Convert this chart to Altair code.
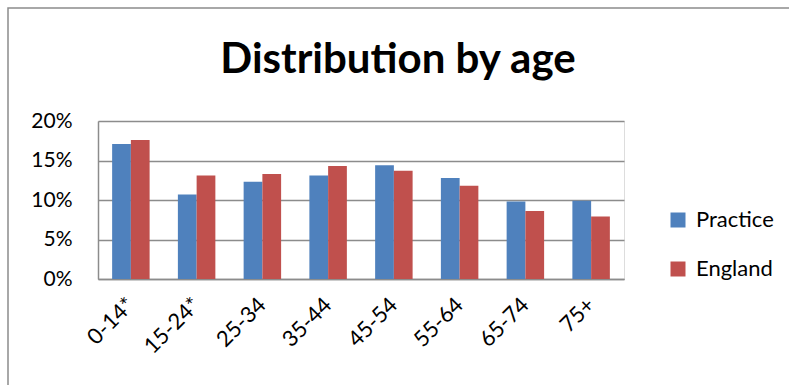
import altair as alt
import pandas as pd

# Share of registered patients by age band (percent)
age_bands = ["0-14*", "15-24*", "25-34", "35-44", "45-54", "55-64", "65-74", "75+"]
practice_pct = [17.1, 10.7, 12.3, 13.1, 14.4, 12.8, 9.8, 9.9]
england_pct = [17.6, 13.1, 13.3, 14.3, 13.7, 11.8, 8.6, 7.9]
series_names = ["Practice", "England"]
series_colors = ["#4F81BD", "#C0504D"]
y_ticks = [0, 5, 10, 15, 20]

rows = []
for band, p, e in zip(age_bands, practice_pct, england_pct):
    rows.append({"age": band, "series": "Practice", "pct": p})
    rows.append({"age": band, "series": "England", "pct": e})
df = pd.DataFrame(rows)

FONT = "Lato"
GRID = "#8C8C8C"

bars = alt.Chart(df).mark_bar().encode(
    x=alt.X(
        "age:N",
        sort=age_bands,
        title=None,
        scale=alt.Scale(paddingInner=0.43, paddingOuter=0.215),
        axis=alt.Axis(
            labelAngle=-45,
            labelAlign="right",
            labelBaseline="middle",
            labelPadding=22,
            labelFont=FONT,
            labelFontSize=22,
            labelColor="#000000",
            ticks=False,
            tickSize=0,
            domainColor=GRID,
            domainWidth=1.5,
            grid=False,
        ),
    ),
    xOffset=alt.XOffset("series:N", sort=series_names, scale=alt.Scale(paddingInner=0, paddingOuter=0)),
    y=alt.Y(
        "pct:Q",
        title=None,
        scale=alt.Scale(domain=[0, 20], nice=False),
        axis=alt.Axis(
            values=y_ticks,
            labelExpr="datum.value + '%'",
            labelFont=FONT,
            labelFontSize=21,
            labelColor="#000000",
            labelPadding=26,
            ticks=False,
            tickSize=0,
            domainColor=GRID,
            domainWidth=1.5,
            gridColor=GRID,
            gridWidth=1.5,
        ),
    ),
    color=alt.Color(
        "series:N",
        sort=series_names,
        scale=alt.Scale(domain=series_names, range=series_colors),
        legend=alt.Legend(
            title=None,
            orient="none",
            legendX=569,
            legendY=88,
            symbolType="square",
            symbolSize=225,
            symbolStrokeWidth=0,
            labelFont=FONT,
            labelFontSize=22,
            labelColor="#000000",
            labelOffset=7,
            rowPadding=27,
        ),
    ),
)

# Outer chart-area border
frame = alt.Chart(pd.DataFrame({"k": [0]})).mark_rect(
    filled=False, stroke=GRID, strokeWidth=1.5
).encode(
    x=alt.value(-90), x2=alt.value(900), y=alt.value(-113), y2=alt.value(400)
)

chart = alt.layer(frame, bars).properties(
    width=526,
    height=158,
    title=alt.TitleParams(
        "Distribution by age",
        font=FONT,
        fontSize=42,
        fontWeight="bold",
        color="#000000",
        anchor="middle",
        baseline="alphabetic",
        dx=37,
        offset=0,
        dy=108,
    ),
    autosize=alt.AutoSizeParams(type="none"),
    padding={"left": 98, "top": 121, "right": 165, "bottom": 106},
).configure_view(stroke=None).configure(background="#FFFFFF")

chart.save("out.html", embed_options={"renderer": "svg", "actions": False})
